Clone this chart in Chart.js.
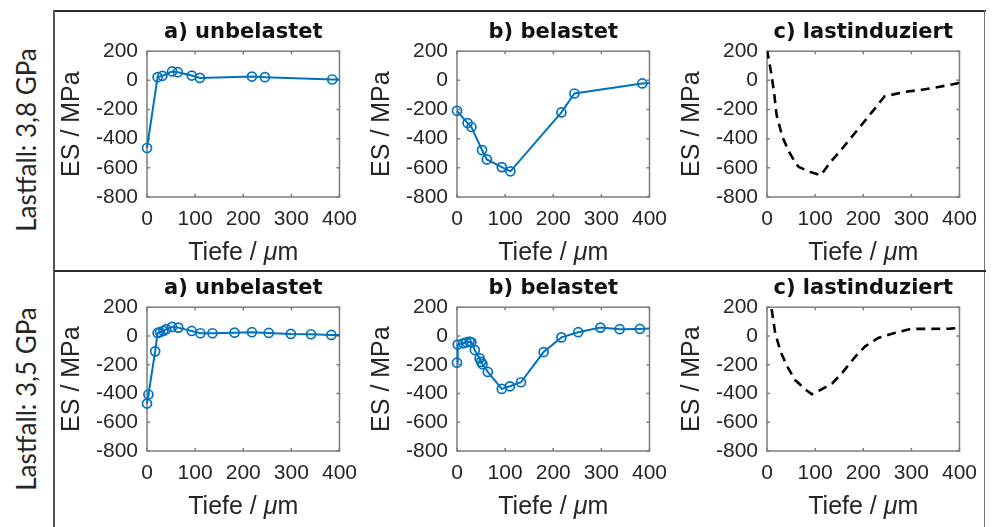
<!DOCTYPE html>
<html lang="de">
<head>
<meta charset="UTF-8">
<title>Eigenspannungen</title>
<script src="https://cdn.jsdelivr.net/npm/chart.js"></script>
<style>
  html, body { margin: 0; padding: 0; background: #fff; }
  #wrap { position: relative; width: 995px; height: 527px; overflow: hidden; }
  canvas { position: absolute; }
  .ln { position: absolute; background: #2b2b2b; }
  .row { position: absolute; font-family: Lato, "Open Sans", sans-serif; font-size: 26px; color: #262626;
         white-space: nowrap; transform: translate(-50%, -50%) rotate(-90deg); }
</style>
</head>
<body>
<div id="wrap">
  <div class="ln" style="left:54px;top:10px;width:932px;height:2px"></div>
  <div class="ln" style="left:53px;top:10px;width:2px;height:517px;background:#555"></div>
  <div class="ln" style="left:984px;top:10px;width:1px;height:517px;background:#777"></div>
  <div class="ln" style="left:54px;top:270px;width:932px;height:2px"></div>
  <div class="row" style="left:26px;top:140px">Lastfall: 3,8 GPa</div>
  <div class="row" style="left:26px;top:399px">Lastfall: 3,5 GPa</div>
  <canvas id="p1"></canvas>
  <canvas id="p2"></canvas>
  <canvas id="p3"></canvas>
  <canvas id="p4"></canvas>
  <canvas id="p5"></canvas>
  <canvas id="p6"></canvas>
</div>
<script>
// Achsen
const xTicks = [0, 100, 200, 300, 400];
const yTicks = [-800, -600, -400, -200, 0, 200];
const titles = ['a) unbelastet', 'b) belastet', 'c) lastinduziert'];

// Lastfall 3,8 GPa
const tiefeA38 = [0, 22, 32, 52, 64, 93, 110, 218, 245, 385, 420];
const esA38    = [-464, 22, 31, 61, 56, 33, 17, 26, 22, 6, 4];
const tiefeB38 = [0, 22, 30, 52, 62, 93, 111, 217, 244, 385, 420];
const esB38    = [-209, -293, -320, -478, -542, -595, -624, -220, -90, -21, -15];
const tiefeC38 = [0, 9, 15, 20, 32, 46, 60, 66, 90, 112, 132, 156, 190, 224, 244, 285, 322, 356, 400];
const esC38    = [210, 46, -91, -239, -388, -491, -571, -594, -628, -651, -560, -469, -332, -194, -110, -80, -64, -46, -18];

// Lastfall 3,5 GPa
const tiefeA35 = [0, 3, 17, 22, 27, 34, 40, 52, 65, 93, 111, 136, 182, 218, 253, 299, 341, 383, 420];
const esA35    = [-470, -407, -107, 21, 26, 35, 47, 63, 58, 35, 19, 19, 23, 26, 21, 14, 12, 7, 5];
const tiefeB35 = [0, 1.5, 13, 20, 26, 30, 37, 47, 50, 53, 64, 93, 110, 133, 180, 217, 252, 298, 338, 380, 420];
const esB35    = [-186, -60, -51, -44, -40, -44, -98, -156, -180, -196, -250, -368, -350, -322, -112, -10, 26, 58, 47, 49, 53];
const tiefeC35 = [5, 17, 28, 42, 58, 78, 93, 112, 136, 156, 184, 204, 231, 265, 299, 340, 381, 400];
const esC35    = [290, 21, -107, -212, -305, -367, -405, -374, -328, -258, -142, -72, -14, 21, 49, 49, 51, 55];

const blau = '#0072BD';
const txt = '#262626';

// Rahmen + Ticks nach innen (wie matlab)
const boxPlugin = {
  id: 'box',
  beforeDatasetsDraw(chart) {
    const {ctx, chartArea: a, scales: {x, y}} = chart;
    ctx.save();
    ctx.strokeStyle = '#7d7d7d';
    ctx.lineWidth = 1.5;
    ctx.strokeRect(a.left, a.top, a.right - a.left, a.bottom - a.top);
    ctx.beginPath();
    x.ticks.forEach(t => {
      const px = x.getPixelForValue(t.value);
      ctx.moveTo(px, a.bottom); ctx.lineTo(px, a.bottom - 3);
      ctx.moveTo(px, a.top); ctx.lineTo(px, a.top + 3);
    });
    y.ticks.forEach(t => {
      const py = y.getPixelForValue(t.value);
      ctx.moveTo(a.left, py); ctx.lineTo(a.left + 3, py);
      ctx.moveTo(a.right, py); ctx.lineTo(a.right - 3, py);
    });
    ctx.stroke();
    ctx.restore();
  }
};

// x-Beschriftung mit kursivem mu
const xLabelPlugin = {
  id: 'xlab',
  afterDraw(chart) {
    const {ctx, chartArea: a} = chart;
    const parts = [['Tiefe / ', ''], ['\u03bc', 'italic '], ['m', '']];
    ctx.save();
    ctx.fillStyle = txt;
    ctx.textBaseline = 'middle';
    ctx.textAlign = 'left';
    let w = 0;
    parts.forEach(p => { ctx.font = p[1] + '25px "Liberation Sans"'; w += ctx.measureText(p[0]).width; });
    let xx = (a.left + a.right) / 2 - w / 2;
    const yy = a.bottom + 56;
    parts.forEach(p => {
      ctx.font = p[1] + '25px "Liberation Sans"';
      ctx.fillText(p[0], xx, yy);
      xx += ctx.measureText(p[0]).width;
    });
    ctx.restore();
  }
};

function pts(xs, ys) {
  return xs.map((v, i) => ({x: v, y: ys[i]}));
}

function messSet(xs, ys) {
  return {
    data: pts(xs, ys),
    borderColor: blau,
    borderWidth: 2,
    pointStyle: 'circle',
    pointRadius: 4.5,
    pointBorderWidth: 1.7,
    pointBorderColor: blau,
    pointBackgroundColor: 'rgba(0,0,0,0)',
    clip: {left: 8, top: 8, right: 0, bottom: 8},
    tension: 0
  };
}

function diffSet(xs, ys) {
  return {
    data: pts(xs, ys),
    borderColor: '#000',
    borderWidth: 2.6,
    borderDash: [9, 6],
    pointRadius: 0,
    tension: 0
  };
}

function makePanel(id, left, top, plotH, title, ds) {
  const cv = document.getElementById(id);
  cv.width = 320;
  cv.height = plotH + 46 + 72;
  cv.style.left = (left - 100) + 'px';
  cv.style.top = (top - 46) + 'px';
  return new Chart(cv.getContext('2d'), {
    type: 'line',
    data: {datasets: [ds]},
    plugins: [boxPlugin, xLabelPlugin],
    options: {
      responsive: false,
      devicePixelRatio: 1,
      animation: false,
      layout: {padding: {left: 0, right: 22, top: 0, bottom: 0}},
      plugins: {
        legend: {display: false},
        tooltip: {enabled: false},
        title: {
          display: true,
          fullSize: false,
          text: title,
          color: '#111',
          font: {family: 'DejaVu Sans', size: 21, weight: 'bold', lineHeight: 1.2},
          padding: {top: 15, bottom: 6}
        }
      },
      scales: {
        x: {
          type: 'linear',
          min: 0, max: 400,
          afterBuildTicks: s => { s.ticks = xTicks.map(v => ({value: v})); },
          afterFit: s => { s.height = 72; },
          grid: {display: false, drawTicks: false},
          border: {display: false},
          ticks: {color: txt, padding: 10, maxRotation: 0, font: {family: 'Liberation Sans', size: 21}},
          title: {display: false}
        },
        y: {
          type: 'linear',
          min: -800, max: 200,
          afterBuildTicks: s => { s.ticks = yTicks.map(v => ({value: v})); },
          afterFit: s => { s.width = 100; },
          grid: {display: false, drawTicks: false},
          border: {display: false},
          ticks: {color: txt, padding: 9, font: {family: 'Liberation Sans', size: 21}},
          title: {display: true, text: 'ES / MPa', color: txt, padding: {top: 10, bottom: 0},
                  font: {family: 'Liberation Sans', size: 25, lineHeight: 1.2}}
        }
      }
    }
  });
}

const colL = [147, 457, 767];
makePanel('p1', colL[0], 51, 146, titles[0], messSet(tiefeA38, esA38));
makePanel('p2', colL[1], 51, 146, titles[1], messSet(tiefeB38, esB38));
makePanel('p3', colL[2], 51, 146, titles[2], diffSet(tiefeC38, esC38));
makePanel('p4', colL[0], 307, 144, titles[0], messSet(tiefeA35, esA35));
makePanel('p5', colL[1], 307, 144, titles[1], messSet(tiefeB35, esB35));
makePanel('p6', colL[2], 307, 144, titles[2], diffSet(tiefeC35, esC35));
</script>
</body>
</html>
